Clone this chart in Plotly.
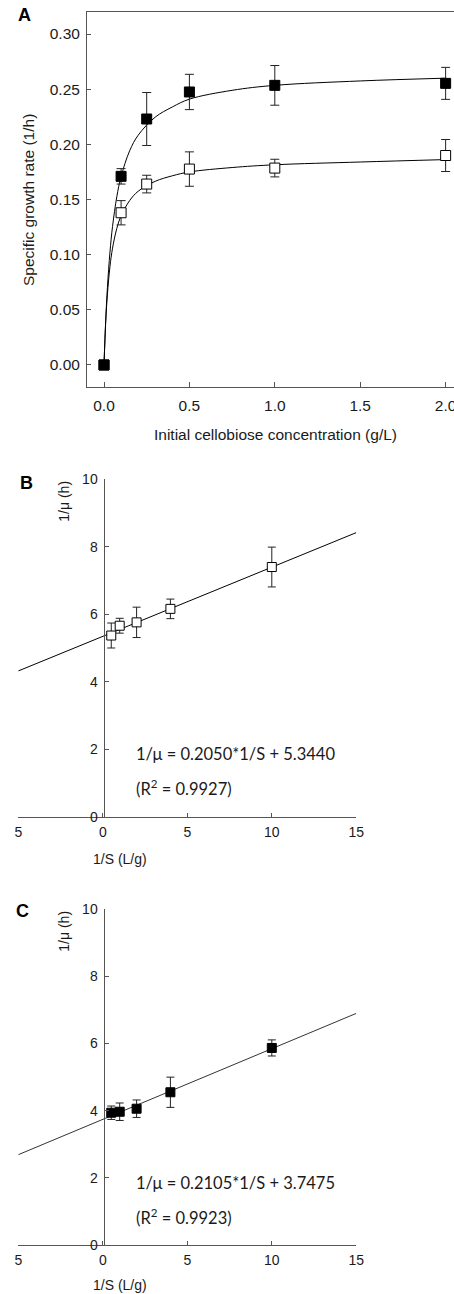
import plotly.graph_objects as go

W, H = 454, 1294

# ---------------- Data ----------------
# Panel A: specific growth rate vs initial cellobiose concentration
conc = [0.0, 0.1, 0.25, 0.5, 1.0, 2.0]
mu_filled = [0.0, 0.171, 0.223, 0.2475, 0.2535, 0.2553]
mu_filled_err = [0.0, 0.007, 0.024, 0.016, 0.018, 0.0145]
mu_open = [0.0, 0.138, 0.164, 0.1776, 0.1785, 0.1899]
mu_open_err = [0.0, 0.011, 0.008, 0.0156, 0.008, 0.0145]

# fitted (Monod) curves
curve_x = [0.0, 0.01, 0.02, 0.035, 0.05, 0.075, 0.1, 0.15, 0.2, 0.3, 0.4, 0.5, 0.75, 1.0, 1.5, 2.0]
curve_filled = [0.0, 0.0403, 0.070, 0.1024, 0.1256, 0.1525, 0.1708, 0.1941, 0.2083, 0.2247,
                0.2339, 0.2410, 0.2490, 0.2535, 0.2575, 0.2600]
curve_open = [0.0, 0.0387, 0.0641, 0.0893, 0.1059, 0.1238, 0.1352, 0.1490, 0.1575, 0.1665,
              0.1715, 0.1750, 0.1790, 0.1815, 0.1840, 0.1862]

# Panel B: Lineweaver-Burk (open squares)
inv_s = [0.5, 1.0, 2.0, 4.0, 10.0]
inv_mu_b = [5.37, 5.66, 5.76, 6.16, 7.40]
inv_mu_b_err = [0.37, 0.22, 0.45, 0.29, 0.59]
line_b_x = [-5, 15]
line_b_y = [4.32, 8.42]

# Panel C: Lineweaver-Burk (filled squares)
inv_mu_c = [3.94, 3.97, 4.06, 4.55, 5.87]
inv_mu_c_err = [0.20, 0.26, 0.26, 0.45, 0.24]
line_c_x = [-5, 15]
line_c_y = [2.69, 6.90]

a_xticks = [0.0, 0.5, 1.0, 1.5, 2.0]
a_xticktext = ["0.0", "0.5", "1.0", "1.5", "2.0"]
a_yticks = [0.0, 0.05, 0.10, 0.15, 0.20, 0.25, 0.30]
a_yticktext = ["0.00", "0.05", "0.10", "0.15", "0.20", "0.25", "0.30"]
bc_xticks = [-5, 0, 5, 10, 15]
bc_xticktext = ["5", "0", "5", "10", "15"]
bc_yticks = [0, 2, 4, 6, 8, 10]

eq_b = ["1/μ = 0.2050*1/S + 5.3440", "(R<sup>2</sup> = 0.9927)"]
eq_c = ["1/μ = 0.2105*1/S + 3.7475", "(R<sup>2</sup> = 0.9923)"]


def px(x):
    return x / W


def py(y):
    return 1 - y / H


AXC = "#555555"
TXT = "#1a1a1a"
FONT = "Liberation Sans, Arial, sans-serif"
EQFONT = "Lato, Carlito, sans-serif"

fig = go.Figure()

# ---- Panel A ----
fig.add_trace(go.Scatter(x=curve_x, y=curve_open, mode="lines", line=dict(color="black", width=1, shape="spline"),
                         xaxis="x", yaxis="y", hoverinfo="skip", showlegend=False))
fig.add_trace(go.Scatter(x=curve_x, y=curve_filled, mode="lines", line=dict(color="black", width=1, shape="spline"),
                         xaxis="x", yaxis="y", hoverinfo="skip", showlegend=False))
fig.add_trace(go.Scatter(x=conc, y=mu_open, mode="markers",
                         marker=dict(symbol="square", size=10, color="white", line=dict(color="black", width=1)),
                         error_y=dict(type="data", array=mu_open_err, color="#222", thickness=1, width=4.5),
                         xaxis="x", yaxis="y", showlegend=False))
fig.add_trace(go.Scatter(x=conc, y=mu_filled, mode="markers",
                         marker=dict(symbol="square", size=10, color="black", line=dict(color="black", width=1)),
                         error_y=dict(type="data", array=mu_filled_err, color="#222", thickness=1, width=4.5),
                         xaxis="x", yaxis="y", showlegend=False))

# ---- Panel B ----
fig.add_trace(go.Scatter(x=line_b_x, y=line_b_y, mode="lines", line=dict(color="black", width=1),
                         xaxis="x2", yaxis="y2", hoverinfo="skip", showlegend=False))
fig.add_trace(go.Scatter(x=inv_s, y=inv_mu_b, mode="markers",
                         marker=dict(symbol="square", size=9, color="white", line=dict(color="black", width=1)),
                         error_y=dict(type="data", array=inv_mu_b_err, color="#222", thickness=1, width=4),
                         xaxis="x2", yaxis="y2", showlegend=False))

# ---- Panel C ----
fig.add_trace(go.Scatter(x=line_c_x, y=line_c_y, mode="lines", line=dict(color="#333", width=1),
                         xaxis="x3", yaxis="y3", hoverinfo="skip", showlegend=False))
fig.add_trace(go.Scatter(x=inv_s, y=inv_mu_c, mode="markers",
                         marker=dict(symbol="square", size=9, color="black", line=dict(color="black", width=1)),
                         error_y=dict(type="data", array=inv_mu_c_err, color="#222", thickness=1, width=4),
                         xaxis="x3", yaxis="y3", showlegend=False))

common = dict(showgrid=False, zeroline=False, showline=True, linecolor=AXC, linewidth=1,
              ticks="inside", tickcolor=AXC, tickwidth=1, automargin=False,
              ticklabeloverflow="allow")

fs_a = 15.5
fs_bc = 14

layout = dict(
    template="none",
    width=W, height=H, margin=dict(l=0, r=0, t=0, b=0, pad=0, autoexpand=False),
    paper_bgcolor="white", plot_bgcolor="white",
    font=dict(family=FONT, color=TXT),
    xaxis=dict(domain=[px(87), 1.0], range=[-0.0995, 2.049], anchor="y",
               tickvals=a_xticks, ticktext=a_xticktext, ticklen=5, mirror=True,
               ticklabelstandoff=5,
               tickfont=dict(size=fs_a, color=TXT), **common),
    yaxis=dict(domain=[py(386.7), py(12)], range=[-0.0197, 0.320], anchor="x",
               tickvals=a_yticks, ticktext=a_yticktext, ticklen=4, ticklabelstandoff=3,
               tickfont=dict(size=fs_a, color=TXT), **common),
    xaxis2=dict(domain=[px(18.3), px(356.3)], range=[-5, 15], anchor="y2",
                tickvals=bc_xticks, ticktext=bc_xticktext, ticklen=4, ticklabelstandoff=2,
                tickfont=dict(size=fs_bc, color=TXT), **common),
    yaxis2=dict(domain=[py(816.7), py(479.3)], range=[0, 10], anchor="free", position=px(103.5),
                tickvals=bc_yticks, ticklen=4, ticklabelstandoff=3,
                tickfont=dict(size=fs_bc, color=TXT), **common),
    xaxis3=dict(domain=[px(18.3), px(356.3)], range=[-5, 15], anchor="y3",
                tickvals=bc_xticks, ticktext=bc_xticktext, ticklen=4, ticklabelstandoff=2,
                tickfont=dict(size=fs_bc, color=TXT), **common),
    yaxis3=dict(domain=[py(1245), py(909.3)], range=[0, 10], anchor="free", position=px(103.5),
                tickvals=bc_yticks, ticklen=4, ticklabelstandoff=3,
                tickfont=dict(size=fs_bc, color=TXT), **common),
)
fig.update_layout(**layout)

ann = []
# panel letters
for lbl, (x, y) in zip(["A", "B", "C"], [(24, 15), (26, 483), (22, 911)]):
    ann.append(dict(text=f"<b>{lbl}</b>", x=px(x), y=py(y), xref="paper", yref="paper",
                    showarrow=False, xanchor="center", yanchor="middle",
                    font=dict(size=18, family=FONT, color="black")))
# axis titles
ann.append(dict(text="Initial cellobiose concentration (g/L)", x=px(275), y=py(435), xref="paper", yref="paper",
                showarrow=False, xanchor="center", yanchor="middle", font=dict(size=fs_a, color=TXT)))
ann.append(dict(text="Specific growth rate (1/h)", x=px(28), y=py(200), xref="paper", yref="paper",
                showarrow=False, xanchor="center", yanchor="middle", textangle=-90,
                font=dict(size=fs_a, color=TXT)))
for ycen, ytitle in [(859, 501.7), (1285, 931.7)]:
    ann.append(dict(text="1/S (L/g)", x=px(120), y=py(ycen), xref="paper", yref="paper",
                    showarrow=False, xanchor="center", yanchor="middle", font=dict(size=fs_bc, color=TXT)))
    ann.append(dict(text="1/μ (h)", x=px(64), y=py(ytitle), xref="paper", yref="paper",
                    showarrow=False, xanchor="center", yanchor="middle", textangle=-90,
                    font=dict(size=fs_bc, color=TXT)))
# equations
for eq, (y1, y2) in [(eq_b, (754, 788)), (eq_c, (1183, 1217))]:
    ann.append(dict(text=eq[0], x=px(134), y=py(y1), xref="paper", yref="paper", showarrow=False,
                    xanchor="left", yanchor="middle", font=dict(size=16.5, family=EQFONT, color=TXT)))
    ann.append(dict(text=eq[1], x=px(134), y=py(y2), xref="paper", yref="paper", showarrow=False,
                    xanchor="left", yanchor="middle", font=dict(size=16.5, family=EQFONT, color=TXT)))

fig.update_layout(annotations=ann)
fig.write_html("out.html")
